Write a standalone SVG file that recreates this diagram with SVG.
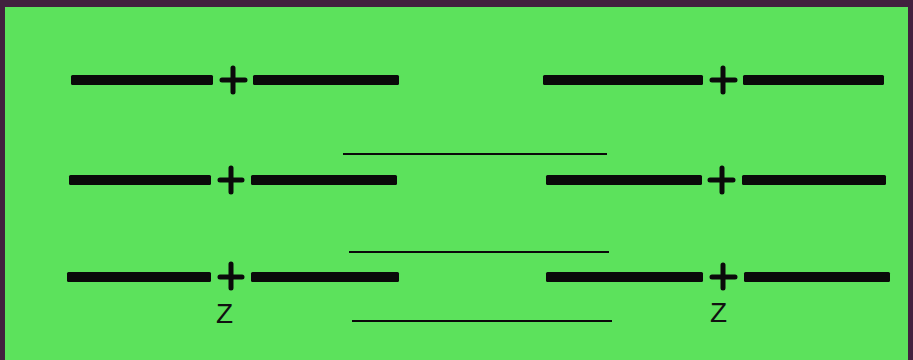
<svg xmlns="http://www.w3.org/2000/svg" width="913" height="360" viewBox="0 0 913 360">
<style>
.bar{fill:#0a0a0a}
.plus{stroke:#0a0a0a;stroke-width:5;stroke-linecap:round;fill:none}
.thin{stroke:#0a0a0a;stroke-width:2}
.lbl{font-family:"Liberation Sans",Arial,sans-serif;font-size:28px;fill:#111}
</style>
<rect x="0" y="0" width="913" height="360" fill="#42213f"/>
<rect x="5" y="7" width="903" height="353" fill="#5ce25c"/>
<g id="row1-left">
<rect class="bar" x="71" y="75" width="142" height="10" rx="1.5"/>
<path class="plus" d="M222,80H245M233,68V92"/>
<rect class="bar" x="253" y="75" width="146" height="10" rx="1.5"/>
</g>
<g id="row1-right">
<rect class="bar" x="543" y="75" width="160" height="10" rx="1.5"/>
<path class="plus" d="M712,80H735M723,68V92"/>
<rect class="bar" x="743" y="75" width="141" height="10" rx="1.5"/>
</g>
<g id="row2-left">
<rect class="bar" x="69" y="175" width="142" height="10" rx="1.5"/>
<path class="plus" d="M220,180H242M231,168V192"/>
<rect class="bar" x="251" y="175" width="146" height="10" rx="1.5"/>
</g>
<g id="row2-right">
<rect class="bar" x="546" y="175" width="156" height="10" rx="1.5"/>
<path class="plus" d="M710,180H733M722,168V192"/>
<rect class="bar" x="742" y="175" width="144" height="10" rx="1.5"/>
</g>
<g id="row3-left">
<rect class="bar" x="67" y="272" width="144" height="10" rx="1.5"/>
<path class="plus" d="M220,277H242M231,264V288"/>
<rect class="bar" x="251" y="272" width="148" height="10" rx="1.5"/>
<text class="lbl" x="216" y="323">Z</text>
</g>
<g id="row3-right">
<rect class="bar" x="546" y="272" width="157" height="10" rx="1.5"/>
<path class="plus" d="M712,277H735M723,265V288"/>
<rect class="bar" x="744" y="272" width="146" height="10" rx="1.5"/>
<text class="lbl" x="710" y="322">Z</text>
</g>
<g id="connectors">
<line class="thin" x1="343" y1="154" x2="607" y2="154"/>
<line class="thin" x1="349" y1="252" x2="609" y2="252"/>
<line class="thin" x1="352" y1="321" x2="612" y2="321"/>
</g>
</svg>
